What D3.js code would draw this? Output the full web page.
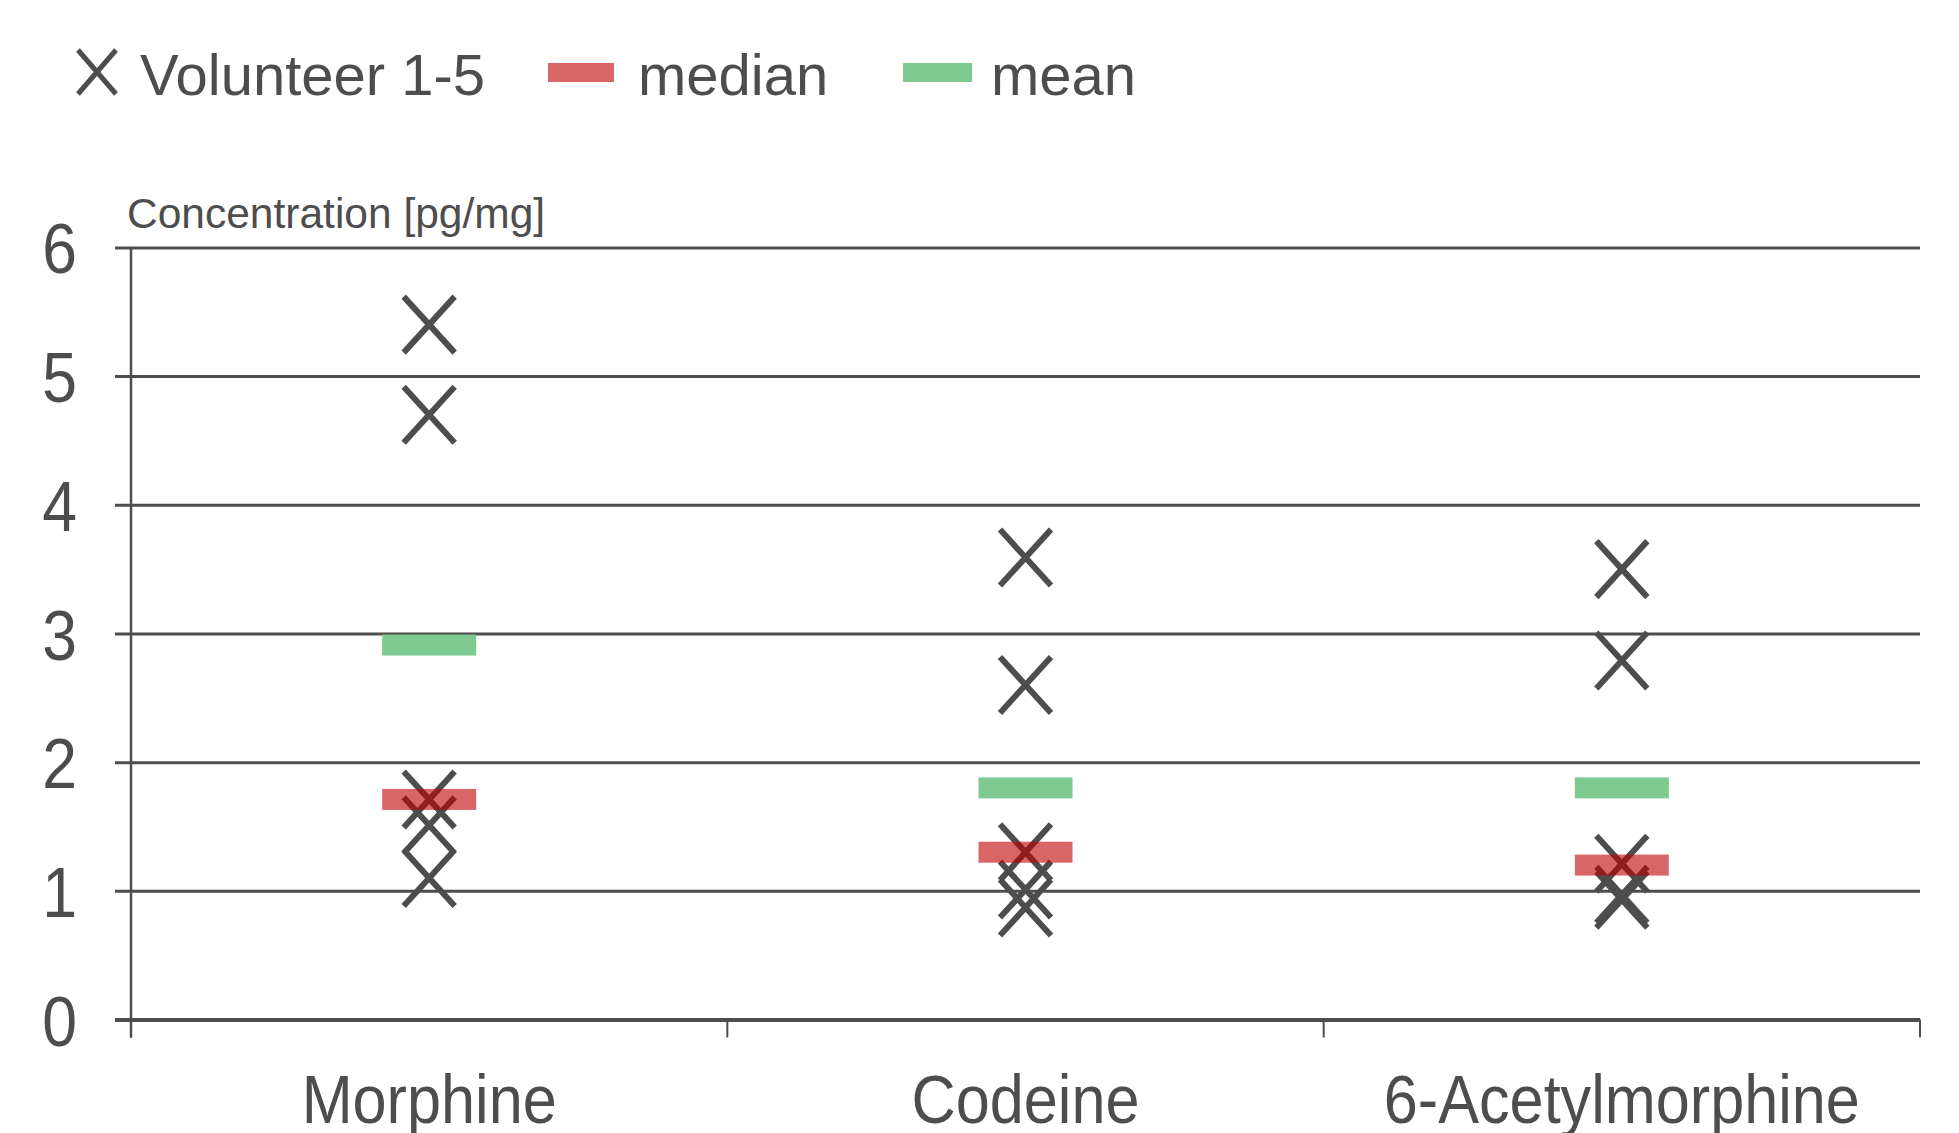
<!DOCTYPE html>
<html>
<head>
<meta charset="utf-8">
<script src="https://cdn.jsdelivr.net/npm/d3@7"></script>
<style>
  body { margin: 0; background: #fff; }
  text { font-family: "Liberation Sans", Arial, sans-serif; fill: #4d4d4d; }
</style>
</head>
<body>
<div id="graph"></div>
<script>
// Data ////////////////////////////////////////////////////////////////
const categories = ["Morphine", "Codeine", "6-Acetylmorphine"];
const volunteers = [
  [5.40, 4.70, 1.71, 1.51, 1.10],
  [3.59, 2.60, 1.30, 1.01, 0.87],
  [3.50, 2.79, 1.21, 0.97, 0.93]
];
const medians = [1.71, 1.30, 1.20];
const means = [2.91, 1.80, 1.80];
const yTicks = [0, 1, 2, 3, 4, 5, 6];
const legendLabels = ["Volunteer 1-5", "median", "mean"];

// Constants ////////////////////////////////////////////////////////////
const svgWidth = 1959;
const svgHeight = 1133;
const plot = { left: 131, right: 1920, top: 247.4, bottom: 1019.5 };
const grey = "#4d4d4d";
const medianColor = "#c00000";
const meanColor = "#7ec98f";
const barW = 94;
const barH = 21;
const markW = 25.5;
const markH = 28;

const svg = d3
  .select("#graph")
  .append("svg")
  .attr("width", svgWidth)
  .attr("height", svgHeight);

const x = d3.scaleBand().domain(categories).range([plot.left, plot.right]);
const y = d3.scaleLinear().domain([0, 6]).range([plot.bottom, plot.top]);

// Grid + y labels
const gridLen = plot.right - 115;
const yAxis = svg
  .append("g")
  .attr("transform", `translate(${plot.right},0)`)
  .call(
    d3.axisLeft(y)
      .tickValues(yTicks)
      .tickSize(gridLen)
      .tickPadding(38)
      .tickFormat(d3.format("d"))
  );
yAxis.select(".domain").remove();
yAxis.selectAll(".tick line")
  .attr("stroke", grey)
  .attr("stroke-width", d => (d === 0 ? 4 : 3));
yAxis.selectAll(".tick text")
  .attr("fill", grey)
  .attr("x", 0)
  .attr("dy", "0.36em")
  .attr("transform", `translate(${-(gridLen + 38)},0) scale(0.88,1)`)
  .style("font-size", "71px")
  .style("font-family", "'Liberation Sans', Arial, sans-serif");

// vertical axis line
svg.append("line")
  .attr("x1", plot.left).attr("x2", plot.left)
  .attr("y1", plot.top).attr("y2", plot.bottom + 18)
  .attr("stroke", grey)
  .attr("stroke-width", 2.5);

// category boundary ticks
const bounds = categories.map(c => x(c)).concat([plot.right]);
svg.selectAll(".catTick")
  .data(bounds)
  .join("line")
  .attr("class", "catTick")
  .attr("x1", d => d).attr("x2", d => d)
  .attr("y1", plot.bottom).attr("y2", plot.bottom + 18)
  .attr("stroke", grey)
  .attr("stroke-width", 2);

// category labels
svg.selectAll(".catLabel")
  .data(categories)
  .join("text")
  .attr("class", "catLabel")
  .attr("text-anchor", "middle")
  .attr("transform", d => `translate(${x(d) + x.bandwidth() / 2},1123) scale(0.9,1)`)
  .style("font-size", "68px")
  .text(d => d);

// axis title
svg.append("text")
  .attr("x", 127)
  .attr("y", 228)
  .style("font-size", "42.5px")
  .text("Concentration [pg/mg]");

// Marks ////////////////////////////////////////////////////////////////
function cross(g, w, h, sw) {
  g.append("path")
    .attr("d", `M${-w},${-h}L${w},${h}M${w},${-h}L${-w},${h}`)
    .attr("stroke", grey)
    .attr("stroke-width", sw)
    .attr("fill", "none");
}

const points = [];
volunteers.forEach((vals, i) => {
  vals.forEach(v => points.push({ cat: categories[i], v }));
});

svg.selectAll(".point")
  .data(points)
  .join("g")
  .attr("class", "point")
  .attr("transform", d => `translate(${x(d.cat) + x.bandwidth() / 2},${y(d.v)})`)
  .each(function () { cross(d3.select(this), markW, markH, 6); });

svg.selectAll(".median")
  .data(medians)
  .join("rect")
  .attr("class", "median")
  .attr("x", (d, i) => x(categories[i]) + x.bandwidth() / 2 - barW / 2)
  .attr("y", d => y(d) - barH / 2)
  .attr("width", barW)
  .attr("height", barH)
  .attr("fill", medianColor)
  .attr("fill-opacity", 0.6);

svg.selectAll(".mean")
  .data(means)
  .join("rect")
  .attr("class", "mean")
  .attr("x", (d, i) => x(categories[i]) + x.bandwidth() / 2 - barW / 2)
  .attr("y", d => y(d) - barH / 2)
  .attr("width", barW)
  .attr("height", barH)
  .attr("fill", meanColor);

// Legend ///////////////////////////////////////////////////////////////
const legend = svg.append("g");
cross(legend.append("g").attr("transform", "translate(97,72)"), 19, 22, 5);
legend.append("rect")
  .attr("x", 548).attr("y", 63).attr("width", 66).attr("height", 19)
  .attr("fill", medianColor).attr("fill-opacity", 0.6);
legend.append("rect")
  .attr("x", 903).attr("y", 63).attr("width", 69).attr("height", 19)
  .attr("fill", meanColor);
legend.selectAll(".legText")
  .data(legendLabels)
  .join("text")
  .attr("class", "legText")
  .attr("x", (d, i) => [140, 638, 991][i])
  .attr("y", 95)
  .style("font-size", "58px")
  .text(d => d);
</script>
</body>
</html>
